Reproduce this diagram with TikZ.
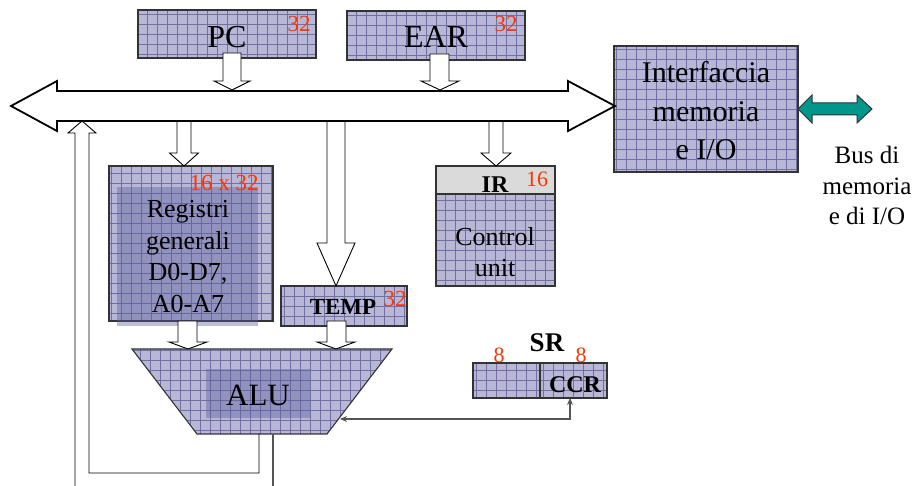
\documentclass[tikz,border=0pt]{standalone}
\usepackage{fontspec}
\setmainfont{Liberation Serif}
\usetikzlibrary{arrows.meta}
\definecolor{lav}{RGB}{184,184,214}
\definecolor{gridc}{RGB}{112,112,165}
\definecolor{innerc}{RGB}{90,90,155}
\definecolor{redn}{RGB}{255,51,0}
\definecolor{tealc}{RGB}{0,150,140}
\definecolor{irgray}{RGB}{218,218,218}
\definecolor{wire}{RGB}{85,85,85}
\tikzset{
  gridfill/.style={fill=lav, path picture={\draw[gridc, line width=0.6pt, step=10pt] (path picture bounding box.south west) grid (path picture bounding box.north east);}},
  regbox/.style={gridfill, draw=black!80, line width=1.1pt, inner sep=0pt, outer sep=0pt, rectangle},
  shade/.style={fill=innerc, fill opacity=0.4, draw=none},
  hollow/.style={draw=black, fill=white, line width=0.9pt, line join=miter},
  openarrow/.style={draw=black, line width=0.9pt, line join=miter},
  buspath/.style={draw=black, fill=white, line width=1.8pt, line join=miter},
  wireline/.style={draw=wire, line width=1.1pt},
  lbl/.style={inner sep=0pt, outer sep=0pt, anchor=base, text=black},
  rlbl/.style={lbl, text=redn, font=\fontsize{23}{26}\selectfont},
  fbig/.style={font=\fontsize{32}{38}\selectfont},
  fmid/.style={font=\fontsize{30}{36}\selectfont},
  freg/.style={font=\fontsize{26}{30}\selectfont},
  fbold/.style={font=\fontsize{24}{28}\selectfont\bfseries},
}
\begin{document}
\begin{tikzpicture}[x=1pt,y=-1pt]
\useasboundingbox (0,0) rectangle (919,486);

% ---- boxes ----
\node[regbox, minimum width=178pt, minimum height=48pt] (pc) at (227,34) {};
\node[regbox, minimum width=178pt, minimum height=49pt] (ear) at (436,35.5) {};
\node[regbox, minimum width=184pt, minimum height=126pt] (iface) at (706,109) {};
\node[regbox, minimum width=164pt, minimum height=155pt] (reg) at (191,243.5) {};
\path[shade] (117,187) rectangle (258,326);
\node[regbox, minimum width=126pt, minimum height=40pt] (temp) at (344,306) {};
\node[regbox, minimum width=119pt, minimum height=92pt] (cu) at (495.5,240) {};
\node[rectangle, fill=irgray, draw=black!80, line width=1.1pt, inner sep=0pt, outer sep=0pt, minimum width=119pt, minimum height=28pt] (ir) at (495.5,180) {};
\node[regbox, minimum width=67pt, minimum height=35pt] (srl) at (506.5,380.5) {};
\node[regbox, minimum width=67pt, minimum height=35pt] (ccr) at (573.5,380.5) {};

% ALU trapezoid
\path[gridfill, draw=black!80, line width=1.1pt]
  (132,349) coordinate (alutl) -- (392,349) coordinate (alutr) --
  (327,434) coordinate (alubr) -- (197,434) coordinate (alubl) -- cycle;
\path[shade] (206,369) rectangle (310,418);

% ---- bus ----
\path[buspath] (11,106) -- (57,81) -- (57,91) -- (568,91) -- (568,81) -- (615,106)
  -- (568,131) -- (568,121) -- (57,121) -- (57,131) -- cycle;

% hollow arrows
\path[hollow] (223,53) -- (223,81) -- (214,81) -- (232,90) -- (250,81) -- (241,81) -- (241,53) -- cycle;
\path[hollow] (430,54) -- (430,81) -- (421,81) -- (440,90) -- (459,81) -- (449,81) -- (449,54) -- cycle;
\path[openarrow] (177,121) -- (177,153) -- (169.5,153) -- (184,166) -- (198.5,153) -- (191,153) -- (191,121);
\path[openarrow] (489,121) -- (489,153) -- (481,153) -- (496,166) -- (511,153) -- (503,153) -- (503,121);
\path[openarrow] (327,121) -- (327,243) -- (317,243) -- (336,286) -- (355,243) -- (345,243) -- (345,121);
\path[hollow] (178,321) -- (178,342) -- (169,342) -- (188,349) -- (207,342) -- (197,342) -- (197,321) -- cycle;
\path[hollow] (327,321) -- (327,342) -- (317,342) -- (336,349) -- (355,342) -- (346,342) -- (346,321) -- cycle;
% up arrow into bus, with its two sides running down
\path[openarrow] (75,486) -- (75,133) -- (68,133) -- (82,121) -- (96,133) -- (89,133) -- (89,473) -- (259,473) -- (259,434);
\path[wireline] (273,434) -- (273,486);

% teal bus arrow
\path[draw=black!80, fill=tealc, line width=1pt, line join=miter]
  (798,109) -- (812,95) -- (812,103) -- (857,103) -- (857,95) -- (872,109)
  -- (857,123) -- (857,115) -- (812,115) -- (812,123) -- cycle;

% CCR <-> ALU
\coordinate (aluin) at (340,419);
\coordinate (ccrin) at (570,398);
\draw[wireline, {Stealth[length=7pt,width=6pt]}-{Stealth[length=7pt,width=6pt]}] (aluin) -- (570,419) -- (ccrin);

% ---- texts ----
\node[lbl, fbig] (tpc) at (227,47.5) {PC};
\node[rlbl] (tpc32) at (299,32) {32};
\node[lbl, fbig] (tear) at (436,48) {EAR};
\node[rlbl] (tear32) at (506,32) {32};

\node[lbl, fmid] (ti1) at (706,83) {Interfaccia};
\node[lbl, fmid] (ti2) at (706,122) {memoria};
\node[lbl, fmid] (ti3) at (706,160) {e I/O};

\node[lbl, font=\fontsize{25}{30}\selectfont] (tb1) at (867,164) {Bus di};
\node[lbl, font=\fontsize{25}{30}\selectfont] (tb2) at (867,194.5) {memoria};
\node[lbl, font=\fontsize{25}{30}\selectfont] (tb3) at (867,225) {e di I/O};

\node[rlbl] (treg) at (224,191) {16 x 32};
\node[lbl, freg] (tr1) at (188,218) {Registri};
\node[lbl, freg] (tr2) at (188,249.5) {generali};
\node[lbl, freg] (tr3) at (188,281) {D0-D7,};
\node[lbl, freg] (tr4) at (188,312.5) {A0-A7};

\node[lbl, font=\fontsize{23}{26}\selectfont\bfseries] (ttemp) at (343,315) {TEMP};
\node[rlbl] (ttemp32) at (395,307) {32};

\node[lbl, font=\fontsize{31}{36}\selectfont] (talu) at (258,406) {ALU};

\node[lbl, fbold] (tir) at (495,193) {IR};
\node[rlbl, font=\fontsize{22}{26}\selectfont] (tir16) at (537,187) {16};
\node[lbl, freg] (tc1) at (495,246) {Control};
\node[lbl, freg] (tc2) at (495,277) {unit};

\node[lbl, font=\fontsize{27}{30}\selectfont\bfseries] (tsr) at (547,352) {SR};
\node[rlbl, font=\fontsize{22}{26}\selectfont] (ts8a) at (499,363) {8};
\node[rlbl, font=\fontsize{22}{26}\selectfont] (ts8b) at (581,363) {8};
\node[lbl, fbold] (tccr) at (575,392) {CCR};
\end{tikzpicture}
\end{document}
